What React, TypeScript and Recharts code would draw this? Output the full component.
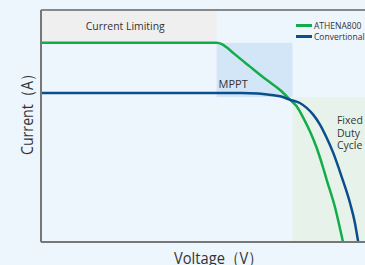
import React from "react";
import {
  ComposedChart,
  Line,
  XAxis,
  YAxis,
  ReferenceArea,
  ReferenceLine,
} from "recharts";

// ATHENA800 curve (voltage %, current %)
const athenaVoltage = [0, 54.2, 55.8, 57.3, 59.4, 64.5, 69.7, 73.8, 76.9, 78.9, 81.0, 83.0, 85.1, 87.1, 88.2, 90.7, 93.2];
const athenaCurrent = [85.9, 85.9, 85.3, 83.9, 81.4, 75.6, 69.8, 65.5, 61.3, 58.5, 53.4, 47.7, 40.5, 31.9, 26.7, 15.2, 0];

// Conventional curve
const convVoltage = [0, 62, 67, 70.5, 73.8, 76.9, 79.9, 82.0, 84.0, 86.1, 88.2, 90.2, 92.8, 95.4, 96.9, 97.9];
const convCurrent = [64.2, 64.2, 64.0, 63.5, 62.8, 61.3, 59.9, 57.8, 54.9, 50.6, 44.8, 38.4, 28.1, 16.7, 8.1, 0];

// Regions
const limitingRegion = { x1: 0, x2: 54.2, y1: 85.9, y2: 100 };
const mpptRegion = { x1: 54.2, x2: 77.6, y1: 62.5, y2: 85.9 };
const fixedRegion = { x1: 77.6, x2: 100, y1: 0, y2: 62.5 };
const fixedLabelLines = ["Fixed", "Duty", "Cycle"];

const seriesNames = ["ATHENA800", "Convertional"];
const seriesColors = ["#12AD48", "#0A4E8C"];

const athenaData = athenaVoltage.map((v, i) => ({ v, i: athenaCurrent[i] }));
const convData = convVoltage.map((v, i) => ({ v, i: convCurrent[i] }));

const FONT = "'Open Sans', 'Noto Sans', sans-serif";
const TXT = "#333333";

export default function App() {
  return (
    <div
      style={{
        position: "fixed",
        left: 0,
        top: 0,
        width: 365,
        height: 265,
        background: "#EEF6FD",
        overflow: "hidden",
      }}
    >
      <ComposedChart
        width={365}
        height={265}
        margin={{ top: 10, right: 0, bottom: 22, left: 40 }}
      >
        <ReferenceArea
          {...limitingRegion}
          fill="#EFEFEF"
          fillOpacity={1}
          stroke="none"
          label={(p: any) => {
            const vb = p.viewBox || {};
            return (
              <text
                x={vb.x + vb.width / 2 - 3.5}
                y={vb.y + 20}
                textAnchor="middle"
                fontFamily={FONT}
                fontSize={11.5}
                textLength={79}
                lengthAdjust="spacingAndGlyphs"
                fill={TXT}
              >
                Current Limiting
              </text>
            );
          }}
        />
        <ReferenceArea
          {...mpptRegion}
          fill="#D3E6F7"
          fillOpacity={1}
          stroke="none"
          label={(p: any) => {
            const vb = p.viewBox || {};
            return (
              <text
                x={vb.x + 2}
                y={vb.y + vb.height - 9.5}
                fontFamily={FONT}
                fontSize={11}
                fill={TXT}
              >
                MPPT
              </text>
            );
          }}
        />
        <ReferenceArea
          {...fixedRegion}
          fill="#E7F3EA"
          fillOpacity={1}
          stroke="none"
          label={(p: any) => {
            const vb = p.viewBox || {};
            return (
              <g>
                {fixedLabelLines.map((l, k) => (
                  <text
                    key={l}
                    x={vb.x + 44.5}
                    y={vb.y + 27 + k * 12.7}
                    fontFamily={FONT}
                    fontSize={10.5}
                    fill={TXT}
                  >
                    {l}
                  </text>
                ))}
              </g>
            );
          }}
        />
        <ReferenceLine y={100} stroke="#888" strokeWidth={2} />
        <Line
          data={athenaData}
          dataKey="i"
          type="monotone"
          stroke={seriesColors[0]}
          strokeWidth={2.5}
          dot={false}
          isAnimationActive={false}
          name={seriesNames[0]}
        />
        <Line
          data={convData}
          dataKey="i"
          type="monotone"
          stroke={seriesColors[1]}
          strokeWidth={2.5}
          dot={false}
          isAnimationActive={false}
          name={seriesNames[1]}
        />
        <XAxis
          type="number"
          dataKey="v"
          domain={[0, 100]}
          allowDataOverflow
          tick={false}
          tickLine={false}
          height={1}
          axisLine={{ stroke: "#777", strokeWidth: 2 }}
          label={(p: any) => {
            const vb = p.viewBox || {};
            return (
              <text
                x={vb.x + vb.width / 2 + 15.5}
                y={264}
                textAnchor="middle"
                fontFamily={FONT}
                fontSize={17}
                textLength={89}
                lengthAdjust="spacingAndGlyphs"
                fill={TXT}
              >
                Voltage（V）
              </text>
            );
          }}
        />
        <YAxis
          type="number"
          dataKey="i"
          domain={[0, 100]}
          allowDataOverflow
          tick={false}
          tickLine={false}
          width={1}
          axisLine={{ stroke: "#777", strokeWidth: 2 }}
          label={(p: any) => {
            const vb = p.viewBox || {};
            const cx = 26;
            const cy = vb.y + vb.height / 2 - 15;
            return (
              <text
                x={cx}
                y={cy}
                transform={`rotate(-90 ${cx} ${cy})`}
                textAnchor="middle"
                dominantBaseline="central"
                fontFamily={FONT}
                fontSize={17}
                textLength={88}
                lengthAdjust="spacingAndGlyphs"
                fill={TXT}
              >
                Current（A）
              </text>
            );
          }}
        />
      </ComposedChart>
      <div
        style={{
          position: "absolute",
          left: 296,
          top: 20,
          fontFamily: FONT,
          fontSize: 8.5,
          color: TXT,
        }}
      >
        {seriesNames.map((n, k) => (
          <div
            key={n}
            style={{ display: "flex", alignItems: "center", height: 11.3, whiteSpace: "nowrap" }}
          >
            <span
              style={{
                display: "inline-block",
                width: 16,
                height: 3,
                background: seriesColors[k],
                marginRight: 2,
              }}
            />
            <span>{n}</span>
          </div>
        ))}
      </div>
    </div>
  );
}
